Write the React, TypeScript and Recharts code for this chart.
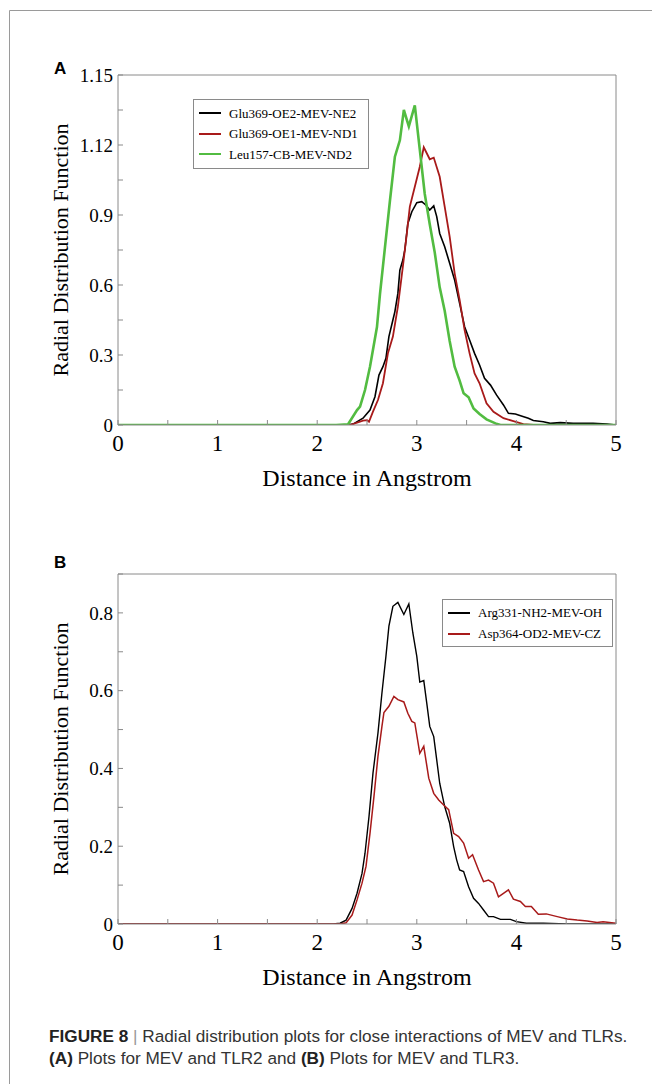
import { LineChart, Line, XAxis, YAxis, Legend } from 'recharts';

const SERIF = '"Liberation Serif", "Times New Roman", serif';
const SANS = '"Liberation Sans", Arial, sans-serif';

// x axis (shared by both panels)
const xTicks = [0, 0.5, 1, 1.5, 2, 2.5, 3, 3.5, 4, 4.5, 5];
const xLabels = ['0', '', '1', '', '2', '', '3', '', '4', '', '5'];

// y axis, panel A (labels kept as printed in the figure)
const yTicksA = [0, 0.15, 0.3, 0.45, 0.6, 0.75, 0.9, 1.05, 1.2, 1.35, 1.5];
const yLabelsA = ['0', '', '0.3', '', '0.6', '', '0.9', '', '1.12', '', '1.15'];

// y axis, panel B
const yTicksB = [0, 0.1, 0.2, 0.3, 0.4, 0.5, 0.6, 0.7, 0.8, 0.9];
const yLabelsB = ['0', '', '0.2', '', '0.4', '', '0.6', '', '0.8', ''];

// panel A: [distance, g(r)]
const glu369NE2: [number, number][] = [
  [0, 0], [2.29, 0], [2.36, 0.004], [2.46, 0.029], [2.53, 0.064], [2.58, 0.121], [2.62, 0.214],
  [2.66, 0.25], [2.69, 0.286], [2.72, 0.379], [2.76, 0.45], [2.78, 0.486], [2.81, 0.564],
  [2.83, 0.664], [2.86, 0.707], [2.88, 0.75], [2.91, 0.864], [2.95, 0.914], [3.0, 0.953],
  [3.05, 0.957], [3.09, 0.943], [3.13, 0.921], [3.17, 0.939], [3.2, 0.893], [3.23, 0.821],
  [3.28, 0.764], [3.33, 0.693], [3.38, 0.621], [3.43, 0.521], [3.48, 0.421], [3.53, 0.364],
  [3.58, 0.307], [3.63, 0.257], [3.68, 0.2], [3.74, 0.171], [3.8, 0.129], [3.87, 0.086],
  [3.92, 0.05], [3.99, 0.047], [4.05, 0.039], [4.12, 0.029], [4.17, 0.019], [4.27, 0.014],
  [4.34, 0.007], [4.44, 0.01], [4.57, 0.007], [4.77, 0.007], [4.91, 0.004], [5, 0],
];

const glu369ND1: [number, number][] = [
  [0, 0], [2.33, 0], [2.46, 0.019], [2.5, 0.021], [2.52, 0.014], [2.56, 0.057], [2.61, 0.107],
  [2.66, 0.179], [2.71, 0.307], [2.76, 0.379], [2.81, 0.507], [2.86, 0.679], [2.9, 0.821],
  [2.93, 0.936], [2.98, 1.021], [3.03, 1.107], [3.07, 1.19], [3.13, 1.139], [3.17, 1.146],
  [3.23, 1.064], [3.28, 0.936], [3.33, 0.807], [3.38, 0.65], [3.43, 0.536], [3.48, 0.407],
  [3.53, 0.307], [3.58, 0.221], [3.63, 0.179], [3.7, 0.093], [3.77, 0.057], [3.87, 0.029],
  [3.97, 0.017], [4.07, 0.004], [4.17, 0], [5, 0],
];

const leu157ND2: [number, number][] = [
  [0, 0], [2.19, 0], [2.31, 0.003], [2.4, 0.064], [2.43, 0.079], [2.48, 0.15], [2.53, 0.25],
  [2.6, 0.42], [2.63, 0.56], [2.68, 0.76], [2.73, 0.96], [2.78, 1.15], [2.83, 1.22],
  [2.87, 1.35], [2.92, 1.28], [2.98, 1.37], [3.03, 1.18], [3.08, 0.99], [3.13, 0.86],
  [3.18, 0.74], [3.23, 0.59], [3.28, 0.49], [3.33, 0.36], [3.38, 0.25], [3.43, 0.19],
  [3.47, 0.136], [3.52, 0.119], [3.57, 0.071], [3.63, 0.047], [3.7, 0.024], [3.79, 0.007],
  [3.84, 0], [5, 0],
];

// panel B
const arg331OH: [number, number][] = [
  [0, 0], [2.16, 0], [2.23, 0.002], [2.29, 0.01], [2.35, 0.04], [2.4, 0.079], [2.45, 0.13],
  [2.48, 0.182], [2.52, 0.276], [2.56, 0.388], [2.61, 0.491], [2.65, 0.594], [2.69, 0.688],
  [2.72, 0.766], [2.76, 0.817], [2.81, 0.827], [2.87, 0.796], [2.92, 0.823], [2.96, 0.749],
  [3.0, 0.688], [3.03, 0.622], [3.07, 0.626], [3.1, 0.568], [3.13, 0.508], [3.17, 0.482],
  [3.2, 0.422], [3.23, 0.362], [3.28, 0.302], [3.33, 0.259], [3.37, 0.199], [3.4, 0.165],
  [3.43, 0.139], [3.47, 0.135], [3.52, 0.096], [3.57, 0.066], [3.62, 0.053], [3.67, 0.036],
  [3.72, 0.019], [3.77, 0.019], [3.84, 0.012], [3.94, 0.012], [4.0, 0.006], [4.1, 0.002],
  [4.27, 0.002], [4.51, 0], [5, 0],
];

const asp364CZ: [number, number][] = [
  [0, 0], [2.23, 0], [2.29, 0.003], [2.35, 0.023], [2.4, 0.062], [2.45, 0.105], [2.49, 0.148],
  [2.53, 0.233], [2.57, 0.328], [2.61, 0.431], [2.65, 0.508], [2.67, 0.544], [2.72, 0.56],
  [2.77, 0.585], [2.81, 0.577], [2.87, 0.571], [2.91, 0.542], [2.95, 0.521], [2.98, 0.517],
  [3.03, 0.439], [3.07, 0.457], [3.12, 0.375], [3.17, 0.336], [3.22, 0.319], [3.27, 0.306],
  [3.32, 0.294], [3.37, 0.233], [3.42, 0.225], [3.47, 0.208], [3.52, 0.169], [3.56, 0.178],
  [3.62, 0.139], [3.67, 0.109], [3.72, 0.113], [3.77, 0.105], [3.82, 0.07], [3.87, 0.079],
  [3.92, 0.088], [3.97, 0.064], [4.04, 0.058], [4.09, 0.045], [4.15, 0.045], [4.22, 0.025],
  [4.3, 0.026], [4.41, 0.019], [4.51, 0.013], [4.61, 0.01], [4.71, 0.008], [4.81, 0.004],
  [4.87, 0.006], [5, 0.002],
];

interface Series {
  name: string;
  color: string;
  width: number;
  points: [number, number][];
}

const seriesA: Series[] = [
  { name: 'Glu369-OE2-MEV-NE2', color: '#000000', width: 1.6, points: glu369NE2 },
  { name: 'Glu369-OE1-MEV-ND1', color: '#a81a1a', width: 1.8, points: glu369ND1 },
  { name: 'Leu157-CB-MEV-ND2', color: '#52bc41', width: 2.6, points: leu157ND2 },
];

const seriesB: Series[] = [
  { name: 'Arg331-NH2-MEV-OH', color: '#000000', width: 1.4, points: arg331OH },
  { name: 'Asp364-OD2-MEV-CZ', color: '#a81a1a', width: 1.5, points: asp364CZ },
];

const FRAME = '#8a8a8a';
const TICK = 5;

function LegendBox({ payload, rowHeight, pad }: any) {
  return (
    <div style={{ border: `1px solid ${FRAME}`, padding: `${pad}px 0`, background: '#fff', boxSizing: 'border-box' }}>
      {(payload || []).map((p: any) => (
        <div key={p.value} style={{ display: 'flex', alignItems: 'center', height: rowHeight }}>
          <svg width={35} height={6} style={{ flex: 'none' }}>
            <line x1={5} y1={3} x2={27} y2={3} stroke={p.color} strokeWidth={2} />
          </svg>
          <span style={{ fontFamily: SERIF, fontSize: 13, lineHeight: 1, whiteSpace: 'nowrap', color: '#000' }}>
            {p.value}
          </span>
        </div>
      ))}
    </div>
  );
}

interface PanelProps {
  top: number;
  series: Series[];
  yMax: number;
  yTicks: number[];
  yLabels: string[];
  legendPos: { left: number; top: number; width: number };
  rowHeight: number;
  pad: number;
}

function Panel({ top, series, yMax, yTicks, yLabels, legendPos, rowHeight, pad }: PanelProps) {
  const order = series.map((s) => s.name);
  return (
    <div style={{ position: 'absolute', left: 0, top }}>
      <LineChart width={652} height={500} margin={{ top: 65, right: 26, bottom: 5, left: 8 }}>
        <XAxis
          dataKey="x"
          type="number"
          domain={[0, 5]}
          ticks={xTicks}
          interval={0}
          height={70}
          tickSize={0}
          tickMargin={0}
          tickLine={false}
          axisLine={{ stroke: FRAME }}
          allowDataOverflow
          tick={(p: any) => (
            <g>
              <line x1={p.x} y1={p.y} x2={p.x} y2={p.y - TICK} stroke={FRAME} />
              <text x={p.x} y={p.y + 26} textAnchor="middle" fontFamily={SERIF} fontSize={23} fill="#000">
                {xLabels[p.index]}
              </text>
            </g>
          )}
          label={{
            value: 'Distance in Angstrom',
            position: 'insideBottom',
            offset: 9,
            style: { fontFamily: SERIF, fontSize: 24, fill: '#000' },
          }}
        />
        <XAxis
          xAxisId="top"
          orientation="top"
          dataKey="x"
          type="number"
          domain={[0, 5]}
          ticks={xTicks}
          interval={0}
          height={10}
          tickSize={0}
          tickMargin={0}
          tickLine={false}
          axisLine={{ stroke: FRAME }}
          tick={(p: any) => <line x1={p.x} y1={p.y} x2={p.x} y2={p.y + TICK} stroke={FRAME} />}
        />
        <YAxis
          type="number"
          domain={[0, yMax]}
          ticks={yTicks}
          interval={0}
          width={110}
          tickSize={0}
          tickMargin={0}
          tickLine={false}
          axisLine={{ stroke: FRAME }}
          allowDataOverflow
          tick={(p: any) => (
            <g>
              <line x1={p.x} y1={p.y} x2={p.x + TICK} y2={p.y} stroke={FRAME} />
              <text x={p.x - 5} y={p.y} dy="0.35em" textAnchor="end" fontFamily={SERIF} fontSize={19} fill="#000">
                {yLabels[p.index]}
              </text>
            </g>
          )}
          label={{
            value: 'Radial Distribution Function',
            angle: -90,
            position: 'insideLeft',
            offset: 52,
            style: { fontFamily: SERIF, fontSize: 22, fill: '#000', textAnchor: 'middle' },
          }}
        />
        <YAxis
          yAxisId="right"
          orientation="right"
          type="number"
          domain={[0, yMax]}
          ticks={yTicks}
          interval={0}
          width={10}
          tickSize={0}
          tickMargin={0}
          tickLine={false}
          axisLine={{ stroke: FRAME }}
          tick={(p: any) => <line x1={p.x} y1={p.y} x2={p.x - TICK} y2={p.y} stroke={FRAME} />}
        />
        <Legend
          layout="horizontal"
          verticalAlign="middle"
          align="center"
          itemSorter={(item: any) => order.indexOf(item.value)}
          wrapperStyle={{ left: legendPos.left, top: legendPos.top, width: legendPos.width }}
          content={(props: any) => <LegendBox payload={props.payload} rowHeight={rowHeight} pad={pad} />}
        />
        {series.map((s) => (
          <Line
            key={s.name}
            name={s.name}
            data={s.points.map(([x, y]) => ({ x, y }))}
            dataKey="y"
            type="linear"
            stroke={s.color}
            strokeWidth={s.width}
            dot={false}
            activeDot={false}
            legendType="line"
            isAnimationActive={false}
          />
        ))}
      </LineChart>
    </div>
  );
}

export default function App() {
  return (
    <div style={{ position: 'absolute', left: 0, top: 0, width: 652, height: 1084, background: '#fff', overflow: 'hidden' }}>
      <svg width={652} height={1084} style={{ position: 'absolute', left: 0, top: 0 }}>
        <line x1={9.5} y1={10.5} x2={652} y2={10.5} stroke="#9a9a9a" />
        <line x1={9.5} y1={10.5} x2={9.5} y2={1084} stroke="#9a9a9a" />
        <text x={54} y={74} fontFamily={SANS} fontWeight="bold" fontSize={17} fill="#000">A</text>
        <text x={54} y={568} fontFamily={SANS} fontWeight="bold" fontSize={17} fill="#000">B</text>
        <text x={49} y={1042} fontFamily={SANS} fontSize={17.2} fill="#333">
          <tspan fontWeight="bold" fill="#222">FIGURE 8</tspan>
          <tspan fill="#999"> | </tspan>
          <tspan>Radial distribution plots for close interactions of MEV and TLRs.</tspan>
        </text>
        <text x={49} y={1064} fontFamily={SANS} fontSize={17.2} fill="#333">
          <tspan fontWeight="bold" fill="#222">(A)</tspan>
          <tspan> Plots for MEV and TLR2 and </tspan>
          <tspan fontWeight="bold" fill="#222">(B)</tspan>
          <tspan> Plots for MEV and TLR3.</tspan>
        </text>
      </svg>
      <Panel
        top={0}
        series={seriesA}
        yMax={1.5}
        yTicks={yTicksA}
        yLabels={yLabelsA}
        legendPos={{ left: 193, top: 99, width: 176 }}
        rowHeight={20.5}
        pad={3}
      />
      <Panel
        top={499}
        series={seriesB}
        yMax={0.9}
        yTicks={yTicksB}
        yLabels={yLabelsB}
        legendPos={{ left: 442, top: 100, width: 171 }}
        rowHeight={21}
        pad={2}
      />
    </div>
  );
}
